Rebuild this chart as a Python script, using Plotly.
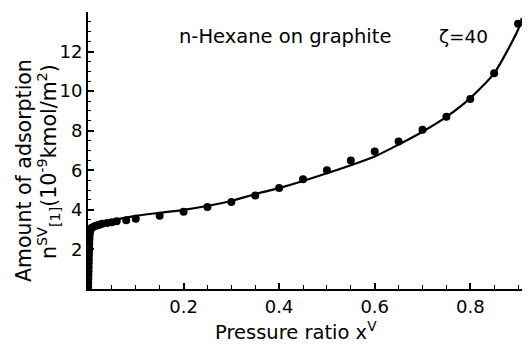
import plotly.graph_objects as go

# Experimental points
exp_x = [0.0003, 0.0005, 0.0007, 0.0009, 0.0011, 0.0013, 0.0015, 0.0017, 0.0019, 0.0021,
         0.0023, 0.0026, 0.0029, 0.0032, 0.0036, 0.004, 0.005, 0.006, 0.008,
         0.01, 0.015, 0.02, 0.025, 0.03, 0.04, 0.05, 0.06, 0.08, 0.1,
         0.15, 0.2, 0.25, 0.3, 0.35, 0.4, 0.45, 0.5, 0.55, 0.6, 0.65, 0.7, 0.75, 0.8, 0.85, 0.9]
exp_y = [0.1, 0.3, 0.5, 0.7, 0.9, 1.1, 1.3, 1.5, 1.7, 1.9,
         2.1, 2.3, 2.5, 2.65, 2.8, 2.9, 3.0, 3.05, 3.1,
         3.12, 3.18, 3.22, 3.26, 3.3, 3.33, 3.37, 3.42, 3.48, 3.55,
         3.7, 3.9, 4.15, 4.4, 4.72, 5.1, 5.55, 6.0, 6.5, 6.95, 7.45, 8.05, 8.7, 9.6, 10.9, 13.4]

# Model curve
fit_x = [0.0, 0.0005, 0.001, 0.002, 0.003, 0.006, 0.01, 0.015, 0.025, 0.04, 0.06, 0.1,
         0.15, 0.2, 0.3, 0.35, 0.4, 0.5, 0.6, 0.65, 0.7, 0.75, 0.8, 0.85, 0.9, 0.908]
fit_y = [0.0, 1.0, 1.7, 2.3, 2.6, 2.9, 3.05, 3.17, 3.3, 3.42, 3.52, 3.7,
         3.85, 4.0, 4.45, 4.8, 5.1, 5.85, 6.7, 7.3, 7.95, 8.7, 9.65, 10.9, 13.1, 13.7]

x_ticks = [0.2, 0.4, 0.6, 0.8]
y_ticks = [2, 4, 6, 8, 10, 12]

FONT = "DejaVu Sans, Verdana, sans-serif"

# page body has an 8px margin; layout below is expressed in screen pixels
OX, OY = 8, 8
PX0, PX1 = 88, 530      # plot area left/right (screen)
PY0, PY1 = 12, 289      # plot area top/bottom (screen)
W, H = 530 - OX, 346 - OY


def px(x):
    return (x - PX0) / (PX1 - PX0)


def py(y):
    return (PY1 - y) / (PY1 - PY0)


fig = go.Figure()
fig.add_trace(go.Scatter(x=fit_x, y=fit_y, mode="lines",
                         line=dict(color="black", width=2.2, shape="spline", smoothing=0.6),
                         showlegend=False, hoverinfo="skip"))
fig.add_trace(go.Scatter(x=exp_x, y=exp_y, mode="markers",
                         marker=dict(color="black", size=8),
                         showlegend=False))

fig.update_layout(
    width=W, height=H,
    margin=dict(l=PX0 - OX, r=W - (PX1 - OX), t=PY0 - OY, b=H - (PY1 - OY), pad=0),
    paper_bgcolor="white", plot_bgcolor="white",
    font=dict(family=FONT, color="black", size=16),
    xaxis=dict(range=[0, 0.925], tickvals=x_ticks, ticktext=[str(v) for v in x_ticks],
               ticks="inside", ticklen=6, tickwidth=1.5, tickcolor="black",
               showline=True, linecolor="black", linewidth=2,
               showgrid=False, zeroline=False,
               minor=dict(dtick=0.05, tick0=0, ticks="inside", ticklen=4, tickwidth=1.2,
                          tickcolor="black", showgrid=False),
               tickfont=dict(size=18, family=FONT)),
    yaxis=dict(range=[0, 14], tickvals=y_ticks, ticktext=[str(v) for v in y_ticks],
               ticks="inside", ticklen=6, tickwidth=1.5, tickcolor="black",
               showline=True, linecolor="black", linewidth=2,
               showgrid=False, zeroline=False,
               minor=dict(dtick=0.5, tick0=0, ticks="inside", ticklen=3, tickwidth=1.2,
                          tickcolor="black", showgrid=False),
               tickfont=dict(size=18, family=FONT)),
    annotations=[
        dict(text="Amount of adsorption", xref="paper", yref="paper",
             x=px(24), y=py(171), textangle=-90, showarrow=False,
             xanchor="center", yanchor="middle", font=dict(size=20.5, family=FONT)),
        dict(text="n<sup>SV</sup><sub>[1]</sub>(10<sup>-9</sup>kmol/m<sup>2</sup>)", xref="paper", yref="paper",
             x=px(49), y=py(162), textangle=-90, showarrow=False,
             xanchor="center", yanchor="middle", font=dict(size=20.5, family=FONT)),
        dict(text="Pressure ratio x<sup>V</sup>", xref="paper", yref="paper",
             x=px(296), y=py(331), showarrow=False,
             xanchor="center", yanchor="middle", font=dict(size=19.5, family=FONT)),
        dict(text="n-Hexane on graphite", xref="paper", yref="paper",
             x=px(285), y=py(37), showarrow=False,
             xanchor="center", yanchor="middle", font=dict(size=19.5, family=FONT)),
        dict(text="ζ=40", xref="paper", yref="paper",
             x=px(463), y=py(36), showarrow=False,
             xanchor="center", yanchor="middle", font=dict(size=18.5, family=FONT)),
    ],
)

fig.write_html("out.html")
